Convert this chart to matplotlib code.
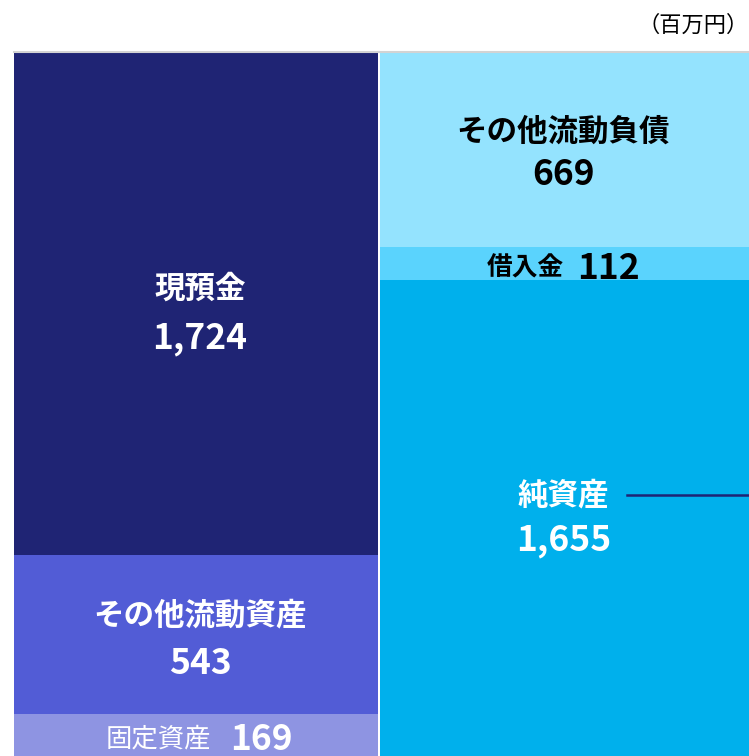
import matplotlib
matplotlib.use('Agg')
import matplotlib.pyplot as plt
from matplotlib.transforms import offset_copy

plt.rcParams['font.family'] = ['Noto Sans CJK JP', 'DejaVu Sans']

# ---- data ----
asset_labels = ['固定資産', 'その他流動資産', '現預金']
asset_values = [169, 543, 1724]
liab_labels = ['純資産', '借入金', 'その他流動負債']
liab_values = [1655, 112, 669]
unit_label = '（百万円）'

# ---- styles ----
asset_colors = ['#8E94E2', '#525CD6', '#1F2474']
liab_colors = ['#00B0EC', '#5AD3FD', '#94E3FE']
asset_text = ['white', 'white', 'white']
liab_text = ['white', 'black', 'black']
# layout per segment: (mode, label offset px, number offset px)
asset_layout = [('inline', -1, -1), ('stack', 19, -29), ('stack', 15, -35)]
liab_layout = [('stack', 26, -19), ('inline', -5, -5), ('stack', 18, -25)]
text_dx = [4, -1]

W, H = 749, 756
fig = plt.figure(figsize=(W / 100, H / 100), dpi=100)
ax = fig.add_axes([14 / W, 0, (W - 14) / W, (H - 52) / H])
total = sum(asset_values)
ax.set_xlim(0, W - 14)
ax.set_ylim(25, total)
ax.axis('off')

cols = [
    (0, 364, asset_labels, asset_values, asset_colors, asset_text, asset_layout, text_dx[0]),
    (366, 369, liab_labels, liab_values, liab_colors, liab_text, liab_layout, text_dx[1]),
]
PX = 0.72  # px -> pt at 100 dpi

for x0, w, labels, values, colors, tcols, layout, dx in cols:
    bottom = 0
    for lab, v, c, tc, (mode, dl, dn) in zip(labels, values, colors, tcols, layout):
        ax.bar(x0, v, width=w, bottom=bottom, color=c, align='edge', linewidth=0)
        cx = x0 + w / 2
        cy = bottom + v / 2
        if mode == 'stack':
            ax.annotate(lab, xy=(cx, cy), xytext=(dx * PX, dl * PX), textcoords='offset points',
                        ha='center', va='center', fontsize=22, fontweight='bold', color=tc)
            ax.annotate(f'{v:,}', xy=(cx, cy), xytext=(dx * PX, dn * PX), textcoords='offset points',
                        ha='center', va='center', fontsize=25.5, fontweight='bold', color=tc)
        else:
            small = 19 if lab == '固定資産' else 18.5
            wt = 'normal' if lab == '固定資産' else 'bold'
            lx = 15 if lab == '固定資産' else 0
            nx = 34 if lab == '固定資産' else 13
            ax.annotate(lab, xy=(cx, cy), xytext=(lx * PX, (dl + 1) * PX), textcoords='offset points',
                        ha='right', va='center', fontsize=small, fontweight=wt, color=tc)
            ax.annotate(f'{v:,}', xy=(cx, cy), xytext=(nx * PX, dn * PX), textcoords='offset points',
                        ha='left', va='center', fontsize=25.5, fontweight='bold', color=tc)
        bottom += v
    ax.plot([x0, x0 + w], [total, total], color='#D3D3D3', lw=1.5, clip_on=False, zorder=5)

# pointer line from 純資産 label
net_center = liab_values[0] / 2
tr = offset_copy(ax.transData, fig=fig, x=0, y=27 * PX, units='points')
ax.plot([613, W - 14], [net_center, net_center], color='#1F2474', lw=1.8,
        transform=tr, clip_on=False)

fig.text(749 / W, 1 - 25 / H, unit_label, ha='right', va='center', fontsize=16, color='black')

fig.savefig('out.png', dpi=100)
